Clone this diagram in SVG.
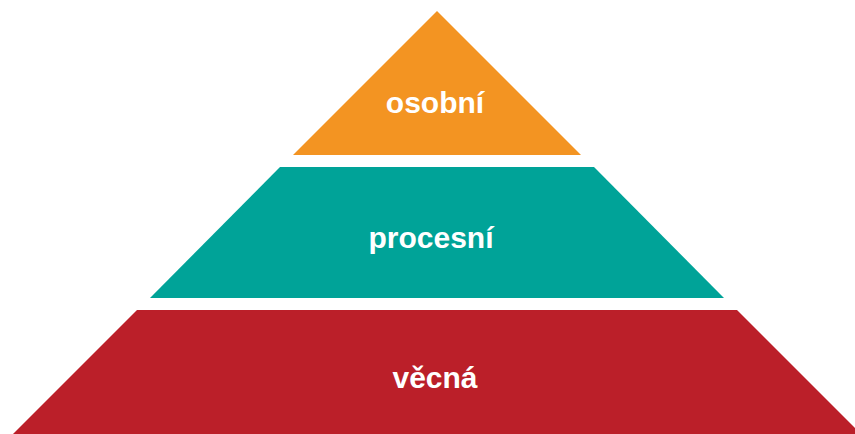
<svg xmlns="http://www.w3.org/2000/svg" width="855" height="434" viewBox="0 0 855 434">
<style>
.lbl{font-family:"Liberation Sans",Arial,sans-serif;font-weight:bold;font-size:30px;fill:#ffffff;text-anchor:middle}
</style>
<rect width="855" height="434" fill="#ffffff"/>
<g id="osobni">
<polygon points="437,11 581,155 293,155" fill="#F39422"/>
<text class="lbl" x="435" y="113">osobní</text>
</g>
<g id="procesni">
<polygon points="280,167 594,167 724,298 150,298" fill="#00A398"/>
<text class="lbl" x="431" y="248">procesní</text>
</g>
<g id="vecna">
<polygon points="137,310 737,310 861,434 13,434" fill="#BB1F29"/>
<text class="lbl" x="435" y="388">věcná</text>
</g>
<g id="connectors"/>
</svg>
